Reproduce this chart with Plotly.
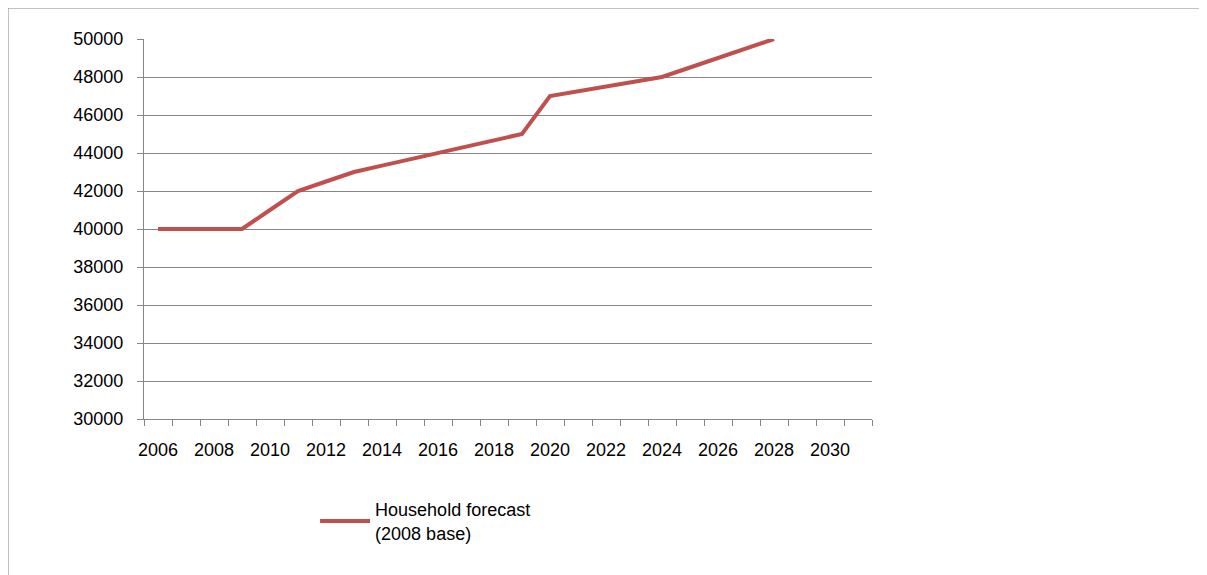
import plotly.graph_objects as go

years = list(range(2006, 2032))
households = [40000, 40000, 40000, 40000, 41000, 42000, 42500, 43000, 43333, 43667,
              44000, 44333, 44667, 45000, 47000, 47250, 47500, 47750, 48000, 48500,
              49000, 49500, 50000, None, None, None]
series_name = "Household forecast<br>(2008 base)"
tick_years = list(range(2006, 2031, 2))
y_ticks = list(range(30000, 50001, 2000))

fig = go.Figure()
fig.add_trace(go.Scatter(x=years, y=households, mode="lines", name=series_name,
                         line=dict(color="#C0504D", width=4), cliponaxis=True))
fig.update_layout(
    width=1207, height=575, paper_bgcolor="white", plot_bgcolor="white",
    margin=dict(l=136, r=343, t=31, b=164),
    font=dict(family="Liberation Sans", size=18, color="black"),
    showlegend=True,
    legend=dict(x=0.235, y=-0.19, xanchor="left", yanchor="top", font=dict(size=18),
                itemwidth=50, bgcolor="rgba(0,0,0,0)"),
    xaxis=dict(range=[2005.5, 2031.5], tickvals=tick_years, ticks="", showgrid=False,
               showline=True, linecolor="#868686", linewidth=1, zeroline=False,
               ticklabelstandoff=14,
               minor=dict(tickvals=[y + 0.5 for y in range(2005, 2032)], ticks="outside",
                          ticklen=6, tickcolor="#868686")),
    yaxis=dict(range=[30000, 50000], tickvals=y_ticks, tickformat="d", showgrid=True,
               gridcolor="#868686", showline=True, linecolor="#868686", ticks="outside",
               ticklen=6, tickcolor="#868686", zeroline=False, ticklabelstandoff=10),
    shapes=[dict(type="rect", xref="paper", yref="paper", x0=-136/728, x1=(1207-136+20)/728,
                 y0=-(164+20)/380, y1=1+31/380, line=dict(color="#868686", width=1))],
)
fig.write_html("out.html")
